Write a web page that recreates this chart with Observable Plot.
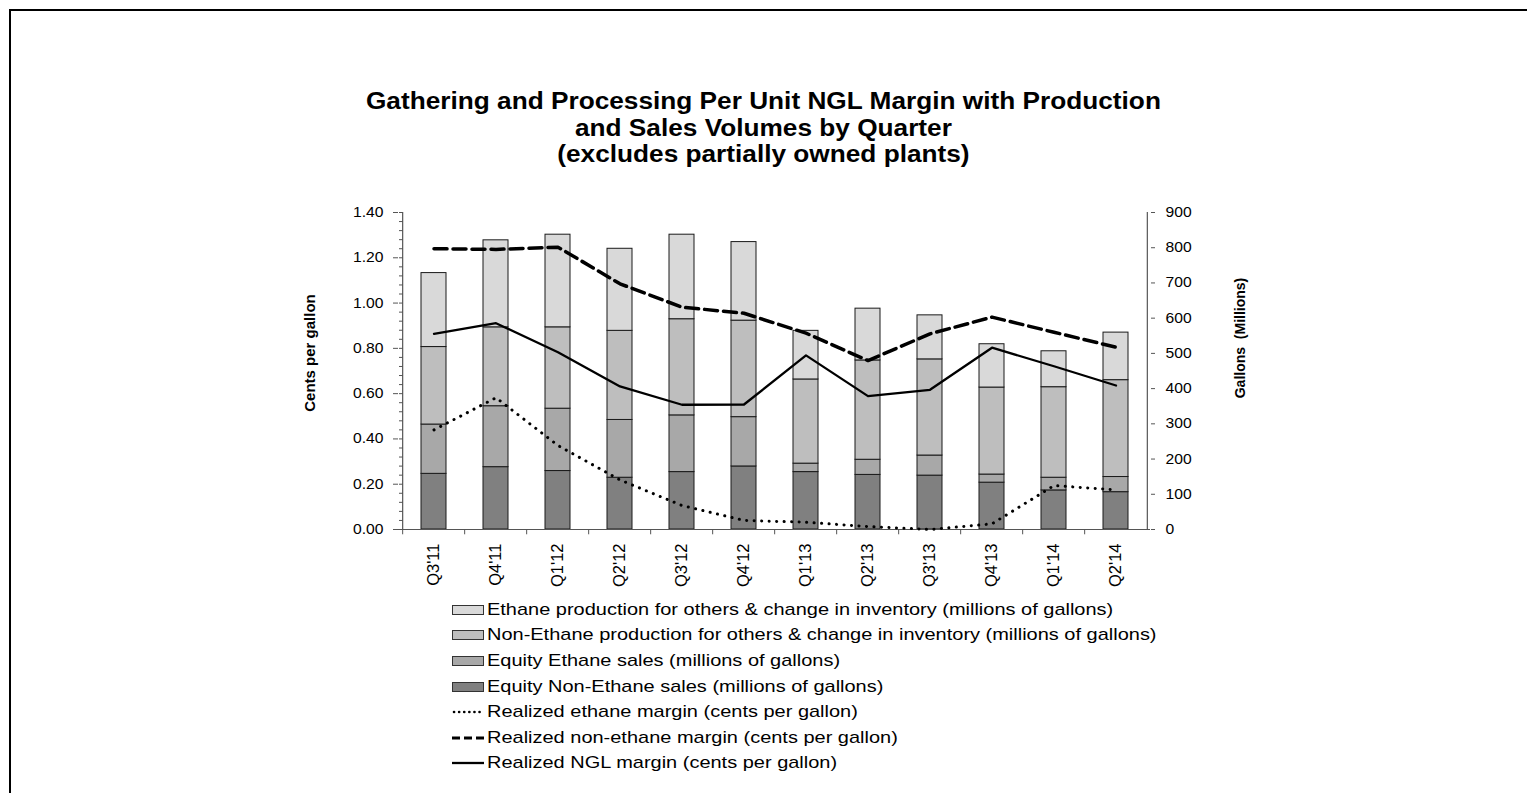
<!DOCTYPE html>
<html>
<head>
<meta charset="utf-8">
<script src="https://cdn.jsdelivr.net/npm/d3@7"></script>
<script src="https://cdn.jsdelivr.net/npm/@observablehq/plot@0.6"></script>
<style>
  body { margin: 0; background: #fff; font-family: "Liberation Sans", Arial, sans-serif; }
  #page { position: relative; width: 1527px; height: 793px; overflow: hidden; background: #fff; }
  #border { position: absolute; left: 9px; top: 9px; width: 1540px; height: 810px; border-top: 2px solid #000; border-left: 2px solid #000; }
  #title { position: absolute; left: 0; top: 88px; width: 1527px; text-align: center; font-weight: bold; font-size: 23px; line-height: 26.5px; color: #000; transform: scaleX(1.14); transform-origin: 764px 0; }
  #chart { position: absolute; left: 270px; top: 195px; }
  #legend { position: absolute; left: 452px; top: 597px; }
  .row { height: 25.6px; display: flex; align-items: center; white-space: nowrap; }
  .sw { width: 30px; height: 8px; border: 1px solid #333; margin-right: 3px; flex: none; box-sizing: content-box; }
  .ls { width: 32px; height: 10px; margin-right: 3px; flex: none; display: block; }
  .txt { font-size: 17px; color: #000; transform: scaleX(1.175); transform-origin: 0 50%; }
</style>
</head>
<body>
<div id="page">
  <div id="border"></div>
  <div id="title">Gathering and Processing Per Unit NGL Margin with Production<br>and Sales Volumes by Quarter<br>(excludes partially owned plants)</div>
  <div id="chart"></div>
  <div id="legend"></div>
</div>
<script>
// ---- Data ----
const quarters = ["Q3'11", "Q4'11", "Q1'12", "Q2'12", "Q3'12", "Q4'12", "Q1'13", "Q2'13", "Q3'13", "Q4'13", "Q1'14", "Q2'14"];

// Bars (millions of gallons), stacked bottom to top
const equityNonEthaneSales = [158, 177, 166, 147, 163, 179, 163, 155, 153, 133, 111, 106];
const equityEthaneSales    = [140, 173, 177, 164, 161, 140, 24, 43, 57, 23, 36, 43];
const nonEthaneProduction  = [220, 224, 231, 253, 273, 274, 239, 282, 273, 247, 257, 275];
const ethaneProduction     = [210, 247, 263, 233, 240, 223, 138, 147, 125, 123, 102, 135];

// Lines (cents per gallon)
const ethaneMargin    = [0.44, 0.582, 0.371, 0.219, 0.106, 0.04, 0.032, 0.013, 0.0, 0.025, 0.194, 0.175];
const nonEthaneMargin = [1.24, 1.237, 1.247, 1.085, 0.982, 0.955, 0.867, 0.746, 0.864, 0.938, 0.871, 0.805];
const nglMargin       = [0.864, 0.911, 0.783, 0.632, 0.551, 0.552, 0.769, 0.589, 0.617, 0.803, 0.721, 0.636];

const seriesNames = [
  "Equity Non-Ethane sales (millions of gallons)",
  "Equity Ethane sales (millions of gallons)",
  "Non-Ethane production for others & change in inventory (millions of gallons)",
  "Ethane production for others & change in inventory (millions of gallons)"
];
const seriesValues = [equityNonEthaneSales, equityEthaneSales, nonEthaneProduction, ethaneProduction];
const barColors = ["#808080", "#a8a8a8", "#bebebe", "#d9d9d9"];

const leftTicks = [0, 0.2, 0.4, 0.6, 0.8, 1.0, 1.2, 1.4];
const rightTicks = [0, 100, 200, 300, 400, 500, 600, 700, 800, 900];

// ---- Build table ----
const barData = [];
seriesValues.forEach((vals, s) => {
  quarters.forEach((q, i) => barData.push({quarter: q, series: seriesNames[s], value: vals[i]}));
});

const leftMax = 1.4, rightMax = 900;
const K = rightMax / leftMax; // cents -> gallons scale conversion for dual axis
const minorTicks = d3.range(0, leftMax + 1e-9, 0.04);

const W = 1010, H = 420, mL = 128, mR = 130, mT = 17, mB = 86;
const step = (W - mL - mR) / quarters.length;
const font = "'Liberation Sans', Arial, sans-serif";

const plot = Plot.plot({
  width: W, height: H,
  marginLeft: mL, marginRight: mR, marginTop: mT, marginBottom: mB,
  style: {fontFamily: font, color: "#000", background: "transparent", overflow: "visible"},
  x: {domain: quarters, paddingInner: 0.6, paddingOuter: 0.3, label: null},
  y: {domain: [0, rightMax], label: null},
  color: {domain: seriesNames, range: barColors},
  marks: [
    Plot.barY(barData, {x: "quarter", y: "value", fill: "series", stroke: "#1a1a1a", strokeWidth: 1}),
    // axis lines
    Plot.ruleY([0], {stroke: "#555", strokeWidth: 1.2}),
    Plot.ruleX([quarters[0]], {dx: -step / 2, y1: 0, y2: rightMax, stroke: "#555", strokeWidth: 1.2}),
    Plot.ruleX([quarters[quarters.length - 1]], {dx: step / 2, y1: 0, y2: rightMax, stroke: "#555", strokeWidth: 1.2}),
    // x ticks between categories
    Plot.ruleX(quarters, {dx: -step / 2, y1: 0, y2: -15, stroke: "#555"}),
    // left axis (cents per gallon)
    Plot.axisY(leftTicks.map(c => c * K), {anchor: "left", tickSize: 5, tickPadding: 10, fontSize: 14, stroke: "#555", tickFormat: d => (d / K).toFixed(2), label: null}),
    Plot.axisY(minorTicks.map(c => c * K), {anchor: "right", frameAnchor: "left", tickSize: 4, stroke: "#555", tickFormat: () => "", label: null}),
    // right axis (gallons)
    Plot.axisY(rightTicks, {anchor: "right", tickSize: 4, tickPadding: 11, fontSize: 14, stroke: "#555", tickFormat: d => String(d), label: null}),
    // x axis labels
    Plot.axisX({tickRotate: -90, tickSize: 0, tickPadding: 14, fontSize: 16.5, label: null}),
    // axis titles
    Plot.text(["Cents per gallon"], {text: d => d, frameAnchor: "left", textAnchor: "middle", dx: -88, dy: -18, rotate: -90, fontSize: 15, fontWeight: "bold", fill: "#000"}),
    Plot.text(["Gallons  (Millions)"], {text: d => d, frameAnchor: "right", textAnchor: "middle", dx: 90, dy: -33, rotate: -90, fontSize: 14, fontWeight: "bold", fill: "#000"}),
    // lines
    Plot.line(quarters, {x: d => d, y: (d, i) => ethaneMargin[i] * K, stroke: "#000", strokeWidth: 3, strokeDasharray: "0.1 7.4", strokeLinecap: "round"}),
    Plot.line(quarters, {x: d => d, y: (d, i) => nonEthaneMargin[i] * K, stroke: "#000", strokeWidth: 3.5, strokeDasharray: "13 6"}),
    Plot.line(quarters, {x: d => d, y: (d, i) => nglMargin[i] * K, stroke: "#000", strokeWidth: 2.3})
  ]
});

// Widen horizontal tick labels like the reference: scale about each label's anchor
plot.querySelectorAll('g[aria-label="y-axis tick label"] text').forEach(t => {
  const tr = t.getAttribute("transform");
  if (tr) {
    t.setAttribute("transform", tr + " scale(1.12,1)");
  } else {
    const xx = parseFloat(t.getAttribute("x")) || 0;
    const yy = parseFloat(t.getAttribute("y")) || 0;
    t.setAttribute("transform", `translate(${xx},${yy}) scale(1.12,1) translate(${-xx},${-yy})`);
  }
});

document.getElementById("chart").appendChild(plot);

// ---- Legend ----
const legendItems = [
  {type: "box", color: barColors[3], label: seriesNames[3]},
  {type: "box", color: barColors[2], label: seriesNames[2]},
  {type: "box", color: barColors[1], label: seriesNames[1]},
  {type: "box", color: barColors[0], label: seriesNames[0]},
  {type: "line", dash: "0.1 5", width: 2.6, cap: "round", label: "Realized ethane margin (cents per gallon)"},
  {type: "line", dash: "8 4", width: 3.2, cap: "butt", label: "Realized non-ethane margin (cents per gallon)"},
  {type: "line", dash: null, width: 2.3, cap: "butt", label: "Realized NGL margin (cents per gallon)"}
];
const legend = document.getElementById("legend");
legendItems.forEach(it => {
  const row = document.createElement("div");
  row.className = "row";
  if (it.type === "box") {
    const sw = document.createElement("div");
    sw.className = "sw";
    sw.style.background = it.color;
    row.appendChild(sw);
  } else {
    const ns = "http://www.w3.org/2000/svg";
    const svg = document.createElementNS(ns, "svg");
    svg.setAttribute("class", "ls");
    svg.setAttribute("width", 32);
    svg.setAttribute("height", 10);
    const ln = document.createElementNS(ns, "line");
    ln.setAttribute("x1", it.cap === "round" ? 2 : 0);
    ln.setAttribute("x2", 32);
    ln.setAttribute("y1", 5);
    ln.setAttribute("y2", 5);
    ln.setAttribute("stroke", "#000");
    ln.setAttribute("stroke-width", it.width);
    ln.setAttribute("stroke-linecap", it.cap);
    if (it.dash) ln.setAttribute("stroke-dasharray", it.dash);
    svg.appendChild(ln);
    row.appendChild(svg);
  }
  const tx = document.createElement("span");
  tx.className = "txt";
  tx.textContent = it.label;
  row.appendChild(tx);
  legend.appendChild(row);
});
</script>
</body>
</html>
